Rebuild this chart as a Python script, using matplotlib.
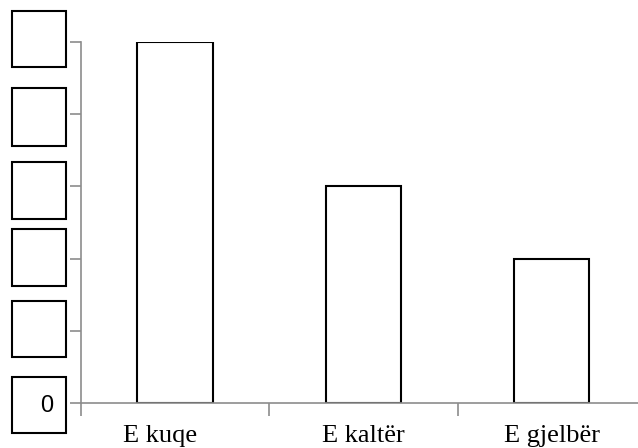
import matplotlib.pyplot as plt
from matplotlib.patches import Rectangle
from matplotlib.transforms import offset_copy

categories = ['E kuqe', 'E kaltër', 'E gjelbër']
values = [5, 3, 2]
ytick_values = [0, 1, 2, 3, 4, 5]
ytick_labels = ['0', '', '', '', '', '']

W, H = 638, 448
fig = plt.figure(figsize=(W / 100, H / 100), dpi=100)

# axes: left spine x=81, bottom y=403, top y=42, slot width ~188px
left, bottom, top = 81, 403, 42
width = 188.3 * 3
ax = fig.add_axes([left / W, 1 - bottom / H, width / W, (bottom - top) / H])

ax.bar(range(len(categories)), values, width=0.4, color='white',
       edgecolor='black', linewidth=1.5, zorder=1)
ax.set_xlim(-0.5, 2.5)
ax.set_ylim(0, 5)

for s in ['top', 'right']:
    ax.spines[s].set_visible(False)
for s in ['left', 'bottom']:
    ax.spines[s].set_color('#8c8c8c')
    ax.spines[s].set_linewidth(1.2)
    ax.spines[s].set_zorder(3)

ax.set_yticks(ytick_values)
ax.set_yticklabels(ytick_labels, fontsize=17, family='Liberation Sans')
ax.tick_params(axis='y', length=8, width=1.2, color='#8c8c8c', pad=12)

ax.set_xticks([-0.5, 0.5, 1.5])
ax.set_xticklabels([])
ax.tick_params(axis='x', length=9, width=1.2, color='#8c8c8c')
# first label sits a bit left of its bar in the original
shift = [-15, 0, 0]
for i, c in enumerate(categories):
    tr = offset_copy(ax.transData, fig=fig, x=shift[i], y=0, units='dots')
    ax.text(i, -0.31, c, ha='center', va='top', fontsize=19,
            family='Liberation Serif', clip_on=False, transform=tr)

# answer boxes next to the y axis
boxes = [(10.7, 66.7), (88, 146), (162, 219), (229, 286), (301, 357), (377, 433)]
for y0, y1 in boxes:
    r = Rectangle((12 / W, 1 - y1 / H), 54 / W, (y1 - y0) / H,
                  transform=fig.transFigure, fill=False,
                  edgecolor='black', linewidth=1.5)
    fig.patches.append(r)

fig.savefig('out.png', dpi=100)
